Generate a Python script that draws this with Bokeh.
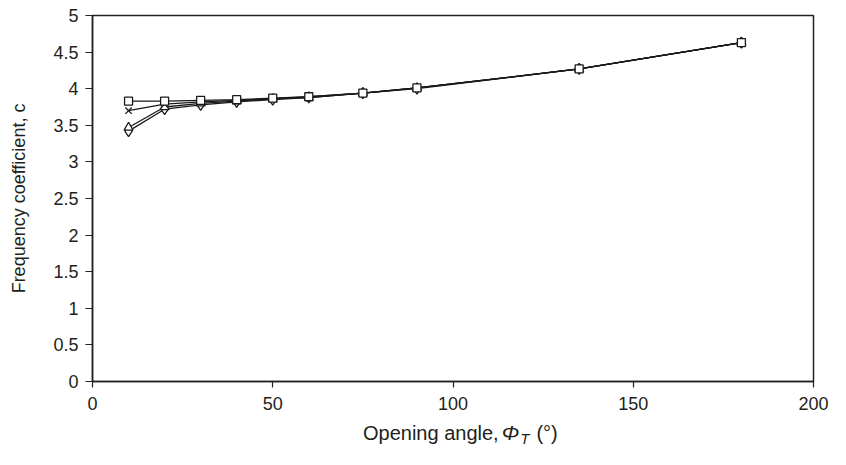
from bokeh.plotting import figure
from bokeh.models import Range1d, FixedTicker, CustomJSTickFormatter, Div
from bokeh.layouts import column
from bokeh.embed import file_html
from bokeh.resources import INLINE

# Data
angle = [10, 20, 30, 40, 50, 60, 75, 90, 135, 180]
series_square = [3.83, 3.83, 3.84, 3.85, 3.87, 3.89, 3.94, 4.01, 4.27, 4.63]
series_cross = [3.70, 3.79, 3.82, 3.84, 3.86, 3.89, 3.94, 4.01, 4.27, 4.63]
series_triangle = [3.47, 3.75, 3.80, 3.83, 3.86, 3.88, 3.94, 4.01, 4.27, 4.63]
series_diamond = [3.42, 3.72, 3.78, 3.82, 3.85, 3.88, 3.94, 4.00, 4.27, 4.63]
x_ticks = [0, 50, 100, 150, 200]
y_ticks = [0, 0.5, 1, 1.5, 2, 2.5, 3, 3.5, 4, 4.5, 5]

FONT = "Liberation Sans"
TXT = "#231f20"

p = figure(width=830, height=418, output_backend="svg", toolbar_location=None,
           x_range=Range1d(0, 200), y_range=Range1d(0, 5))
p.min_border_left = 92
p.min_border_right = 17
p.min_border_top = 15
p.min_border_bottom = 37
p.outline_line_color = "#222222"
p.outline_line_width = 1.5
p.grid.visible = False

for ax in (p.xaxis[0], p.yaxis[0]):
    ax.axis_line_color = "#222222"
    ax.axis_line_width = 1.5
    ax.major_tick_line_color = "#222222"
    ax.major_tick_line_width = 1.2
    ax.minor_tick_line_color = None
    ax.major_tick_in = 0
    ax.major_label_text_font = FONT
    ax.major_label_text_font_size = "18px"
    ax.major_label_text_color = TXT
    ax.formatter = CustomJSTickFormatter(code="return tick.toString();")

p.xaxis.ticker = FixedTicker(ticks=x_ticks)
p.yaxis.ticker = FixedTicker(ticks=y_ticks)
p.xaxis.major_tick_out = 6
p.yaxis.major_tick_out = 7
p.xaxis.major_label_standoff = 9
p.yaxis.major_label_standoff = 7

p.yaxis.axis_label = "Frequency coefficient, c"
p.yaxis.axis_label_text_font = FONT
p.yaxis.axis_label_text_font_size = "18px"
p.yaxis.axis_label_text_font_style = "normal"
p.yaxis.axis_label_text_color = TXT
p.yaxis.axis_label_standoff = 21

line_kw = dict(line_color="#1a1a1a", line_width=1.3)
mk_kw = dict(line_color="#1a1a1a", fill_color="white", line_width=1.3, size=9)

p.line(angle, series_diamond, **line_kw)
p.line(angle, series_triangle, **line_kw)
p.line(angle, series_cross, **line_kw)
p.line(angle, series_square, **line_kw)
p.scatter(angle, series_diamond, marker="diamond", **dict(mk_kw, size=11))
p.scatter(angle, series_triangle, marker="triangle", **mk_kw)
p.scatter(angle, series_cross, marker="x", line_color="#1a1a1a", line_width=1.3, size=9)
p.scatter(angle, series_square, marker="square", **dict(mk_kw, size=8))

# x-axis title (italic Phi with subscript T) as real HTML text
title_html = (
    '<div style="padding-left:363px; padding-top:4px; white-space:nowrap; '
    'font-family:\'Liberation Sans\'; font-size:20px; color:#231f20; line-height:22px;">'
    'Opening angle,<i style="font-size:21px; margin-left:3px;">Φ</i>'
    '<sub style="font-style:italic; font-size:15px; vertical-align:-4px; margin-left:1px;">T</sub>'
    '<span style="margin-left:7px;">(°)</span></div>'
)
xtitle = Div(text=title_html, width=830, height=31, margin=(0, 0, 0, 0))

layout = column(p, xtitle, spacing=0)
open("out.html", "w").write(file_html(layout, INLINE))
